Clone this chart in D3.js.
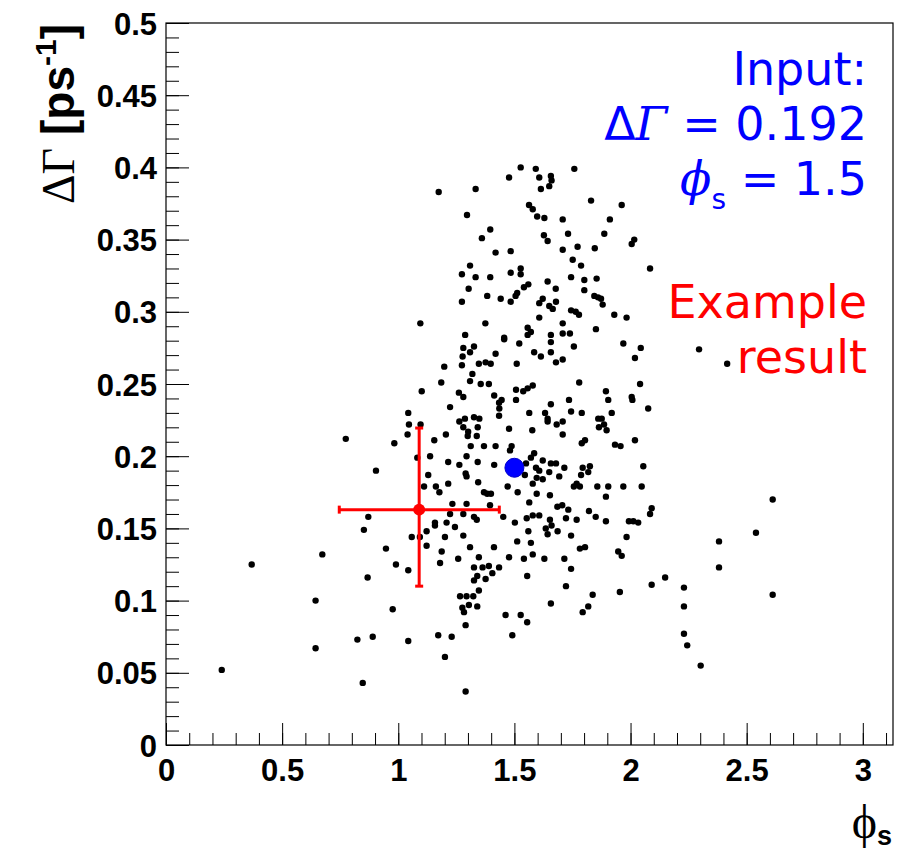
<!DOCTYPE html>
<html>
<head>
<meta charset="utf-8">
<title>phi_s vs DeltaGamma toy fits</title>
<script src="https://d3js.org/d3.v7.min.js"></script>
<style>
  body { margin: 0; background: #fff; }
</style>
</head>
<body>
<script>
// fitted (phi_s, DeltaGamma) of each toy experiment
var toyFits = [
  [1.527,0.400],[1.592,0.399],[1.758,0.399],[1.477,0.393],[1.607,0.393],[1.657,0.394],[1.660,0.391],[1.650,0.387],
  [1.614,0.385],[1.174,0.383],[1.333,0.385],[1.830,0.377],[1.563,0.374],[1.579,0.371],[1.598,0.366],[1.629,0.365],
  [1.708,0.364],[1.296,0.367],[1.396,0.357],[1.360,0.351],[1.627,0.353],[1.643,0.349],[1.731,0.354],[1.708,0.343],
  [1.772,0.345],[1.846,0.344],[1.419,0.341],[1.484,0.342],[1.751,0.336],[1.787,0.332],[1.309,0.332],[1.527,0.330],
  [1.274,0.326],[1.333,0.324],[1.396,0.324],[1.484,0.327],[1.527,0.326],[1.744,0.324],[1.801,0.322],[1.854,0.323],
  [1.303,0.316],[1.541,0.317],[1.560,0.319],[1.643,0.321],[1.678,0.316],[1.801,0.315],[1.274,0.307],[1.383,0.311],
  [1.441,0.309],[1.484,0.307],[1.505,0.311],[1.512,0.313],[1.622,0.309],[1.607,0.306],[1.679,0.307],[1.650,0.304],
  [1.665,0.302],[1.844,0.311],[1.860,0.310],[1.744,0.301],[1.764,0.300],[1.778,0.298],[1.607,0.296],[1.708,0.292],
  [1.095,0.292],[1.375,0.292],[1.557,0.289],[1.571,0.286],[1.851,0.288],[1.288,0.284],[1.456,0.282],[1.557,0.284],
  [1.657,0.284],[1.708,0.285],[1.739,0.285],
  [1.962,0.374],[1.911,0.364],[1.887,0.354],[2.016,0.350],[2.005,0.347],[2.084,0.330],[1.873,0.309],[1.880,0.305],
  [1.930,0.298],[1.983,0.296],
  [0.774,0.212],[0.983,0.209],[0.904,0.190],[0.871,0.158],
  [1.326,0.276],[1.280,0.275],[1.456,0.281],[1.521,0.278],[1.657,0.279],[1.756,0.276],[1.277,0.269],[1.309,0.272],
  [1.419,0.271],[1.585,0.272],[1.614,0.269],[1.657,0.272],[1.274,0.263],[1.347,0.264],[1.376,0.265],[1.398,0.264],
  [1.510,0.264],[1.679,0.265],[1.708,0.267],[1.198,0.262],[1.319,0.257],[1.185,0.251],[1.309,0.252],[1.355,0.250],
  [1.390,0.250],[1.507,0.246],[1.538,0.245],[1.557,0.247],[1.579,0.249],[1.779,0.251],[1.101,0.245],[1.261,0.244],
  [1.280,0.241],[1.413,0.242],[1.445,0.239],[1.507,0.239],[1.735,0.239],[1.223,0.234],[1.434,0.237],[1.435,0.233],
  [1.657,0.236],[1.043,0.230],[1.434,0.228],[1.564,0.230],[1.632,0.230],[1.643,0.226],[1.744,0.231],[1.790,0.230],
  [1.861,0.226],[1.263,0.224],[1.287,0.226],[1.326,0.227],[1.349,0.226],[1.643,0.224],[1.708,0.224],[1.046,0.222],
  [1.096,0.222],[1.280,0.220],[1.301,0.217],[1.342,0.220],[1.477,0.219],[1.577,0.218],[1.682,0.222],[1.864,0.220],
  [1.040,0.215],[1.205,0.215],[1.299,0.214],[1.338,0.214],[1.708,0.215],[1.804,0.211],[1.790,0.209],[1.155,0.211],
  [1.312,0.207],[1.369,0.207],[1.419,0.207],[1.488,0.207],[1.481,0.204],[1.585,0.202],[1.571,0.199],[1.137,0.200],
  [1.294,0.200],[1.082,0.199],[1.215,0.196],[1.263,0.194],[1.342,0.196],[1.413,0.194],[1.550,0.195],[1.622,0.197],
  [1.657,0.195],[1.679,0.195],[1.794,0.192],[1.825,0.193],[1.593,0.192],[1.607,0.190],[1.650,0.189],[1.715,0.192],
  [1.818,0.189],[1.290,0.188],[1.129,0.187],[1.294,0.186],[1.545,0.187],[1.596,0.185],[1.693,0.186],[1.787,0.187],
  [1.215,0.181],[1.162,0.179],[1.177,0.175],[1.344,0.182],[1.471,0.179],[1.579,0.181],[1.622,0.184],[1.756,0.179],
  [1.768,0.181],[1.782,0.179],[1.857,0.179],[1.111,0.179],[1.369,0.175],[1.383,0.174],[1.399,0.174],[1.514,0.175],
  [1.596,0.174],[1.653,0.173],[1.233,0.167],[1.294,0.167],[1.395,0.166],[1.564,0.168],[1.685,0.165],[1.706,0.166],
  [1.732,0.163],[1.821,0.162],[1.223,0.160],[1.280,0.160],[1.326,0.158],[1.338,0.156],[1.452,0.158],[1.553,0.157],
  [1.579,0.159],[1.607,0.159],[1.653,0.156],[1.722,0.157],[1.768,0.156],[1.850,0.158],[1.158,0.154],[1.208,0.154],
  [1.502,0.154],
  [1.969,0.278],[2.044,0.275],[2.019,0.268],[2.295,0.274],[2.416,0.264],[2.041,0.250],[1.894,0.245],[1.904,0.239],
  [2.005,0.241],[2.008,0.239],[2.076,0.233],[1.919,0.230],[1.876,0.226],[1.886,0.222],[1.897,0.218],[2.019,0.211],
  [1.933,0.208],[1.957,0.207],[2.055,0.193],[1.904,0.179],[1.969,0.179],[2.048,0.179],[1.894,0.172],[2.612,0.170],
  [2.091,0.164],[2.084,0.160],[1.894,0.155],[1.993,0.155],[2.012,0.155],[2.033,0.154],
  [0.852,0.149],[0.947,0.136],[0.673,0.132],[0.369,0.125],[0.990,0.125],[0.868,0.116],[0.644,0.100],[0.976,0.094],
  [0.824,0.073],[0.890,0.075],[0.644,0.067],[0.240,0.052],[0.847,0.043],
  [1.058,0.144],[1.093,0.144],[1.122,0.148],[1.158,0.152],[1.244,0.151],[1.201,0.144],[1.280,0.145],[1.560,0.148],
  [1.635,0.150],[1.660,0.152],[1.643,0.146],[1.686,0.148],[1.744,0.145],[1.122,0.138],[1.187,0.134],[1.309,0.137],
  [1.412,0.137],[1.512,0.141],[1.571,0.140],[1.782,0.136],[1.804,0.137],[1.180,0.126],[1.258,0.129],[1.347,0.130],
  [1.477,0.130],[1.541,0.129],[1.579,0.132],[1.629,0.129],[1.715,0.129],[1.043,0.121],[1.326,0.123],[1.363,0.123],
  [1.390,0.124],[1.434,0.123],[1.744,0.122],[1.405,0.119],[1.340,0.117],[1.326,0.114],[1.376,0.115],[1.555,0.117],
  [1.722,0.110],[1.266,0.103],[1.294,0.103],[1.323,0.103],[1.347,0.107],[1.837,0.104],[1.276,0.095],[1.283,0.092],
  [1.304,0.097],[1.340,0.096],[1.657,0.098],[1.818,0.096],[1.794,0.092],[1.462,0.090],[1.527,0.090],[1.555,0.085],
  [1.290,0.083],[1.172,0.076],[1.230,0.075],[1.491,0.076],[1.043,0.072],[1.201,0.061],[1.290,0.037],
  [1.983,0.144],[2.540,0.147],[2.381,0.141],[1.947,0.134],[1.962,0.131],[2.381,0.123],[2.149,0.116],[2.091,0.111],
  [1.954,0.106],[2.230,0.109],[2.612,0.104],[2.230,0.096],[2.230,0.077],[2.244,0.069],[2.302,0.055]
];

var inputPoint = [1.5, 0.192];                 // phi_s, DeltaGamma
var exampleFit = [1.09, 0.163];                // phi_s, DeltaGamma
var exampleErrPhi = [0.746, 1.435];            // low, high
var exampleErrDG = [0.110, 0.2195];            // low, high

var xRange = [0, 3.13];
var yRange = [0, 0.5];
var xTickLabels = [0, 0.5, 1, 1.5, 2, 2.5, 3];
var yTickLabels = [0, 0.05, 0.1, 0.15, 0.2, 0.25, 0.3, 0.35, 0.4, 0.45, 0.5];

var width = 902, height = 855;
var frame = {left: 166, right: 893, top: 23, bottom: 745};

var svg = d3.select("body").append("svg")
    .attr("width", width)
    .attr("height", height)
    .style("display", "block");

var x = d3.scaleLinear().domain(xRange).range([frame.left, frame.right]);
var y = d3.scaleLinear().domain(yRange).range([frame.bottom, frame.top]);

function fmt(d) { return String(+d.toFixed(2)); }

// minor ticks
svg.append("g").attr("class", "x-minor")
   .attr("transform", "translate(0," + frame.bottom + ")")
   .call(d3.axisBottom(x).tickValues(d3.range(0, 3.13, 0.1)).tickSize(-12).tickFormat(""));
svg.append("g").attr("class", "y-minor")
   .attr("transform", "translate(" + frame.left + ",0)")
   .call(d3.axisLeft(y).tickValues(d3.range(0, 0.501, 0.01)).tickSize(-13).tickFormat(""));

// major ticks with labels
svg.append("g").attr("class", "x-axis")
   .attr("transform", "translate(0," + frame.bottom + ")")
   .call(d3.axisBottom(x).tickValues(xTickLabels).tickSize(-22).tickPadding(14).tickFormat(fmt));
svg.append("g").attr("class", "y-axis")
   .attr("transform", "translate(" + frame.left + ",0)")
   .call(d3.axisLeft(y).tickValues(yTickLabels).tickSize(-23).tickPadding(9).tickFormat(fmt));

svg.selectAll(".domain").remove();
svg.selectAll(".tick line").attr("stroke", "#000").attr("stroke-width", 1);
svg.selectAll(".x-axis text, .y-axis text")
   .attr("font-family", "'Liberation Sans', Arial, sans-serif")
   .attr("font-weight", "bold")
   .attr("font-size", 31)
   .attr("fill", "#000");
svg.selectAll(".y-axis text").attr("dy", "0.36em");

// frame
svg.append("rect")
   .attr("x", frame.left).attr("y", frame.top)
   .attr("width", frame.right - frame.left)
   .attr("height", frame.bottom - frame.top)
   .attr("fill", "none").attr("stroke", "#000").attr("stroke-width", 1.2);

// toy results
svg.append("g").selectAll("circle")
   .data(toyFits)
   .enter().append("circle")
   .attr("cx", function(d) { return x(d[0]); })
   .attr("cy", function(d) { return y(d[1]); })
   .attr("r", 3.2)
   .attr("fill", "#000");

// example fit with errors
var err = svg.append("g").attr("stroke", "#ff0000").attr("stroke-width", 3);
err.append("line")
   .attr("x1", x(exampleErrPhi[0])).attr("x2", x(exampleErrPhi[1]))
   .attr("y1", y(exampleFit[1])).attr("y2", y(exampleFit[1]));
err.append("line")
   .attr("x1", x(exampleFit[0])).attr("x2", x(exampleFit[0]))
   .attr("y1", y(exampleErrDG[0])).attr("y2", y(exampleErrDG[1]));
exampleErrPhi.forEach(function(v) {
  err.append("line").attr("x1", x(v)).attr("x2", x(v))
     .attr("y1", y(exampleFit[1]) - 4).attr("y2", y(exampleFit[1]) + 4);
});
exampleErrDG.forEach(function(v) {
  err.append("line").attr("y1", y(v)).attr("y2", y(v))
     .attr("x1", x(exampleFit[0]) - 4).attr("x2", x(exampleFit[0]) + 4);
});
svg.append("circle")
   .attr("cx", x(exampleFit[0])).attr("cy", y(exampleFit[1]))
   .attr("r", 6).attr("fill", "#ff0000");

// input value
svg.append("circle")
   .attr("cx", x(inputPoint[0])).attr("cy", y(inputPoint[1]))
   .attr("r", 9.5).attr("fill", "#0000ff").attr("stroke", "#0000cc").attr("stroke-width", 1);

// text boxes
var note = svg.append("g")
    .attr("font-family", "'DejaVu Sans', sans-serif")
    .attr("font-size", 46)
    .attr("text-anchor", "end");
note.append("text").attr("x", 867).attr("y", 85).attr("fill", "#0000ff").text("Input:");
var l2 = note.append("text").attr("x", 867).attr("y", 140).attr("fill", "#0000ff");
l2.append("tspan").text("Δ");
l2.append("tspan").attr("font-family", "'DejaVu Serif', serif").attr("font-style", "italic").text("Γ");
l2.append("tspan").text(" = " + inputPoint[1]);
var l3 = note.append("text").attr("x", 867).attr("y", 195).attr("fill", "#0000ff");
l3.append("tspan").attr("font-family", "'DejaVu Serif', serif").attr("font-style", "italic").text("ϕ");
l3.append("tspan").attr("font-size", 28).attr("dy", 14).text("s");
l3.append("tspan").attr("dy", -14).text(" = " + inputPoint[0]);
note.append("text").attr("x", 867).attr("y", 318).attr("fill", "#ff0000").text("Example");
note.append("text").attr("x", 867).attr("y", 373).attr("fill", "#ff0000").text("result");

// axis titles
var yt = svg.append("text")
    .attr("transform", "translate(74,24) rotate(-90)")
    .attr("text-anchor", "end")
    .attr("font-size", 46)
    .attr("fill", "#000");
yt.append("tspan").attr("font-family", "'Liberation Serif', serif").text("ΔΓ");
yt.append("tspan").attr("font-family", "'Liberation Sans', sans-serif").attr("font-weight", "bold").text(" [ps");
yt.append("tspan").attr("font-family", "'Liberation Sans', sans-serif").attr("font-weight", "bold")
  .attr("font-size", 30).attr("dy", -18).text("-1");
yt.append("tspan").attr("font-family", "'Liberation Sans', sans-serif").attr("font-weight", "bold")
  .attr("dy", 18).text("]");

var xt = svg.append("text")
    .attr("x", 892).attr("y", 838)
    .attr("text-anchor", "end")
    .attr("fill", "#000");
xt.append("tspan").attr("font-family", "'Liberation Serif', serif").attr("font-size", 48).text("ϕ");
xt.append("tspan").attr("font-family", "'Liberation Sans', sans-serif").attr("font-weight", "bold")
  .attr("font-size", 27).attr("dy", 7).text("s");
</script>
</body>
</html>
